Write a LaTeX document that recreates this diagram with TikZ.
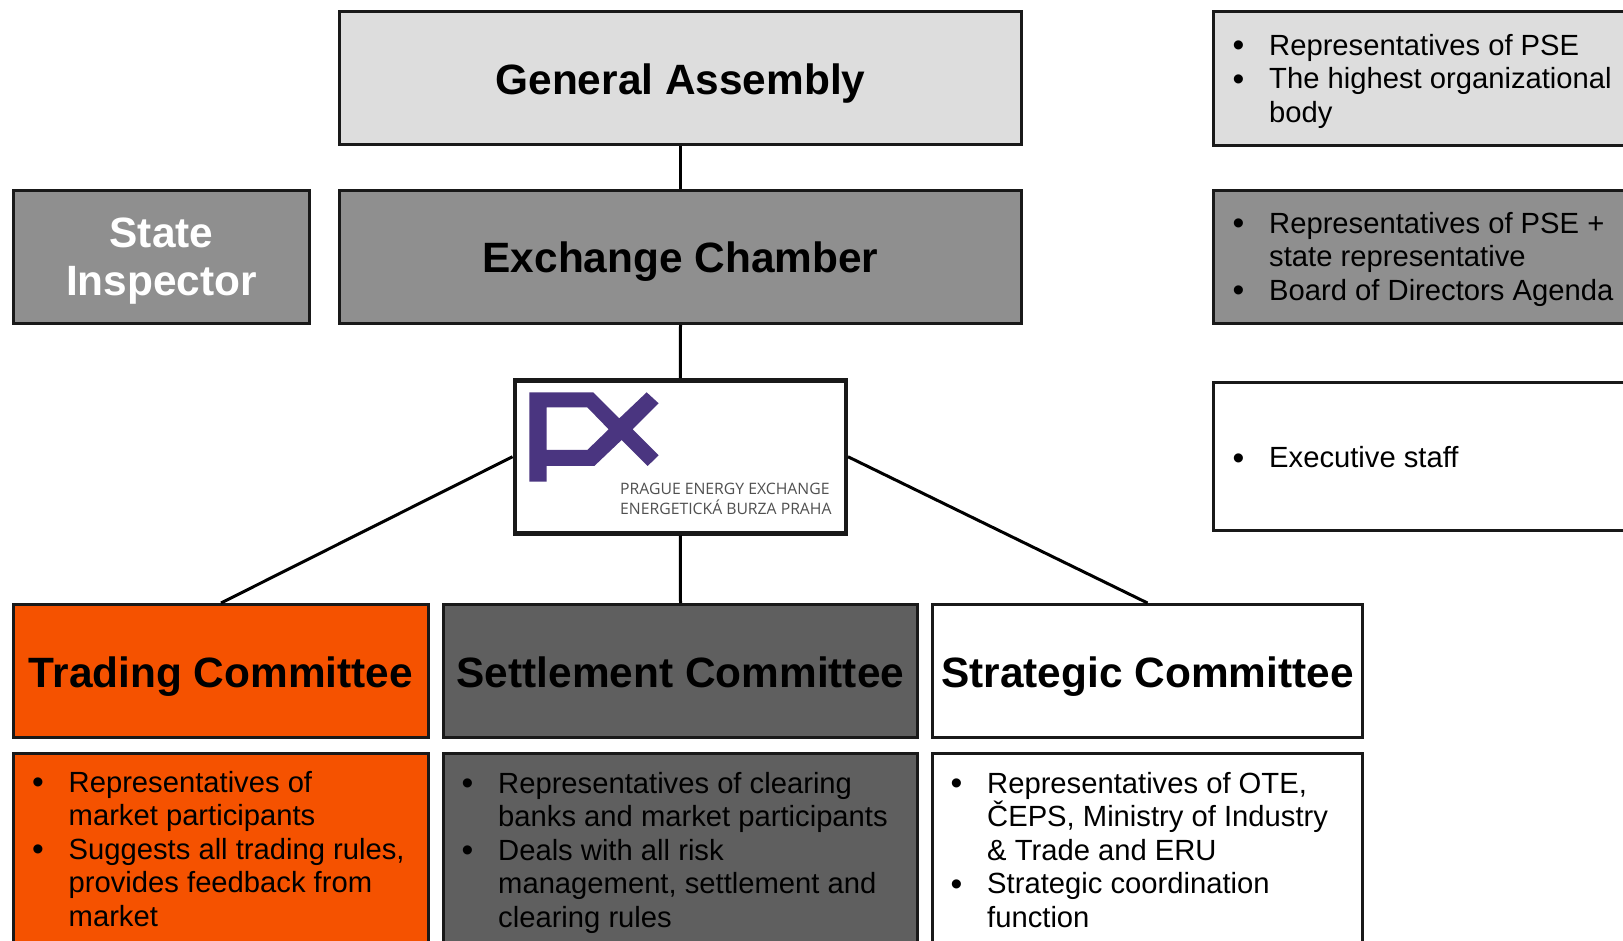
\documentclass[tikz,border=0pt]{standalone}
\usepackage{fontspec}
\setmainfont{Liberation Sans}
\newfontfamily\logofont{Open Sans}
\definecolor{lightgr}{HTML}{DDDDDD}
\definecolor{midgr}{HTML}{8F8F8F}
\definecolor{darkgr}{HTML}{5F5F5F}
\definecolor{orng}{HTML}{F55200}
\definecolor{pxpurple}{HTML}{4A3580}
\definecolor{logotxt}{HTML}{505050}
\newcommand{\bigbul}{{\fontsize{33.5}{33.5}\selectfont\raisebox{-1.7pt}{\textbullet}}}
\newcommand{\bitem}[1]{\strut\makebox[0pt][r]{\makebox[36.5pt][l]{\bigbul}}#1}
\tikzset{
  box/.style={draw=black!90,line width=3pt,rectangle,inner sep=0pt,anchor=north west},
  ttl/.style={font=\fontsize{42.4}{48}\selectfont\bfseries,text height=32pt,text depth=0pt},
  ttltwo/.style={font=\fontsize{42.4}{48}\selectfont\bfseries,align=center,text=white},
  body/.style={font=\fontsize{29.2}{33.5}\selectfont,align=left,anchor=north west,inner sep=0pt},
  conn/.style={line width=3pt,black}
}
\begin{document}
\begin{tikzpicture}[x=1pt,y=-1pt]
\useasboundingbox (0,0) rectangle (1623,941);
\clip (0,0) rectangle (1623,941);
\fill[white] (0,0) rectangle (1623,941);
% top boxes
\node[box,ttl,fill=lightgr,minimum width=682pt,minimum height=133pt] (ga) at (338,10.5) {General Assembly};
\node[box,ttl,fill=midgr,minimum width=682pt,minimum height=133pt] (ec) at (338,189) {Exchange Chamber};
\node[box,ttltwo,fill=midgr,minimum width=296pt,minimum height=133pt] (si) at (12,189) {\rule{0pt}{37pt}State\\Inspector};
% logo box
\node[box,line width=4.5pt,fill=white,minimum width=331pt,minimum height=153pt] (px) at (512.5,378) {};
% committees
\node[box,ttl,fill=orng,minimum width=415pt,minimum height=133pt] (tc) at (12,603) {Trading Committee};
\node[box,ttl,fill=darkgr,minimum width=474pt,minimum height=133pt] (sc) at (442,603) {Settlement Committee};
\node[box,ttl,fill=white,minimum width=430pt,minimum height=133pt] (stc) at (931,603) {Strategic Committee};
% connectors
\draw[conn] (ga.south) -- (ec.north);
\draw[conn] (ec.south) -- (px.north);
\draw[conn] (px.west) -- (tc.north);
\draw[conn] (px.south) -- (sc.north);
\draw[conn] (px.east) -- (stc.north);
% right column boxes
\node[box,fill=lightgr,minimum width=500pt,minimum height=134pt] (r1) at (1212,10) {};
\node[box,fill=midgr,minimum width=500pt,minimum height=133pt] (r2) at (1212,189) {};
\node[box,fill=white,minimum width=500pt,minimum height=148pt] (r3) at (1212,381) {};
% lower boxes
\node[box,fill=orng,minimum width=415pt,minimum height=300pt] (t2) at (12,752) {};
\node[box,fill=darkgr,minimum width=474pt,minimum height=300pt] (s2) at (442,752) {};
\node[box,fill=white,minimum width=430pt,minimum height=300pt] (g2) at (931,752) {};
% texts
\node[body] (r1t) at (1269,31.5) {\bitem{Representatives of PSE}\\\bitem{The highest organizational}\\\strut body};
\node[body] (r2t) at (1269,209.5) {\bitem{Representatives of PSE +}\\\strut state representative\\\bitem{Board of Directors Agenda}};
\node[body] (r3t) at (1269,444) {\bitem{Executive staff}};
\node[body] (t2t) at (68.5,768.5) {\bitem{Representatives of}\\\strut market participants\\\bitem{Suggests all trading rules,}\\\strut provides feedback from\\\strut market};
\node[body] (s2t) at (498,769.5) {\bitem{Representatives of clearing}\\\strut banks and market participants\\\bitem{Deals with all risk}\\\strut management, settlement and\\\strut clearing rules};
\node[body] (g2t) at (987,769.5) {\bitem{Representatives of OTE,}\\\strut\smash{ČEPS, Ministry of Industry}\\\strut \& Trade and ERU\\\bitem{Strategic coordination}\\\strut function};
% logo
\begin{scope}[shift={(500,370)},x=0.3333pt,y=-0.3333pt]
\fill[pxpurple,even odd rule]
 (88,67) -- (280,67) -- (358,145) -- (440,67) -- (476,100) -- (398,178) -- (476,256) -- (443,288) -- (365,210) -- (283,288) -- (140,288) -- (140,335) -- (88,335) -- cycle
 (140,112) -- (262,112) -- (326,178) -- (262,240) -- (140,240) -- cycle;
\end{scope}
\node[anchor=base west,inner sep=0pt,text=logotxt,font=\logofont\fontsize{15.75}{18}\selectfont] (l1) at (620,494) {PRAGUE ENERGY EXCHANGE};
\node[anchor=base west,inner sep=0pt,text=logotxt,font=\logofont\fontsize{15.75}{18}\selectfont] (l2) at (620,514) {ENERGETICKÁ BURZA PRAHA};
\end{tikzpicture}
\end{document}
